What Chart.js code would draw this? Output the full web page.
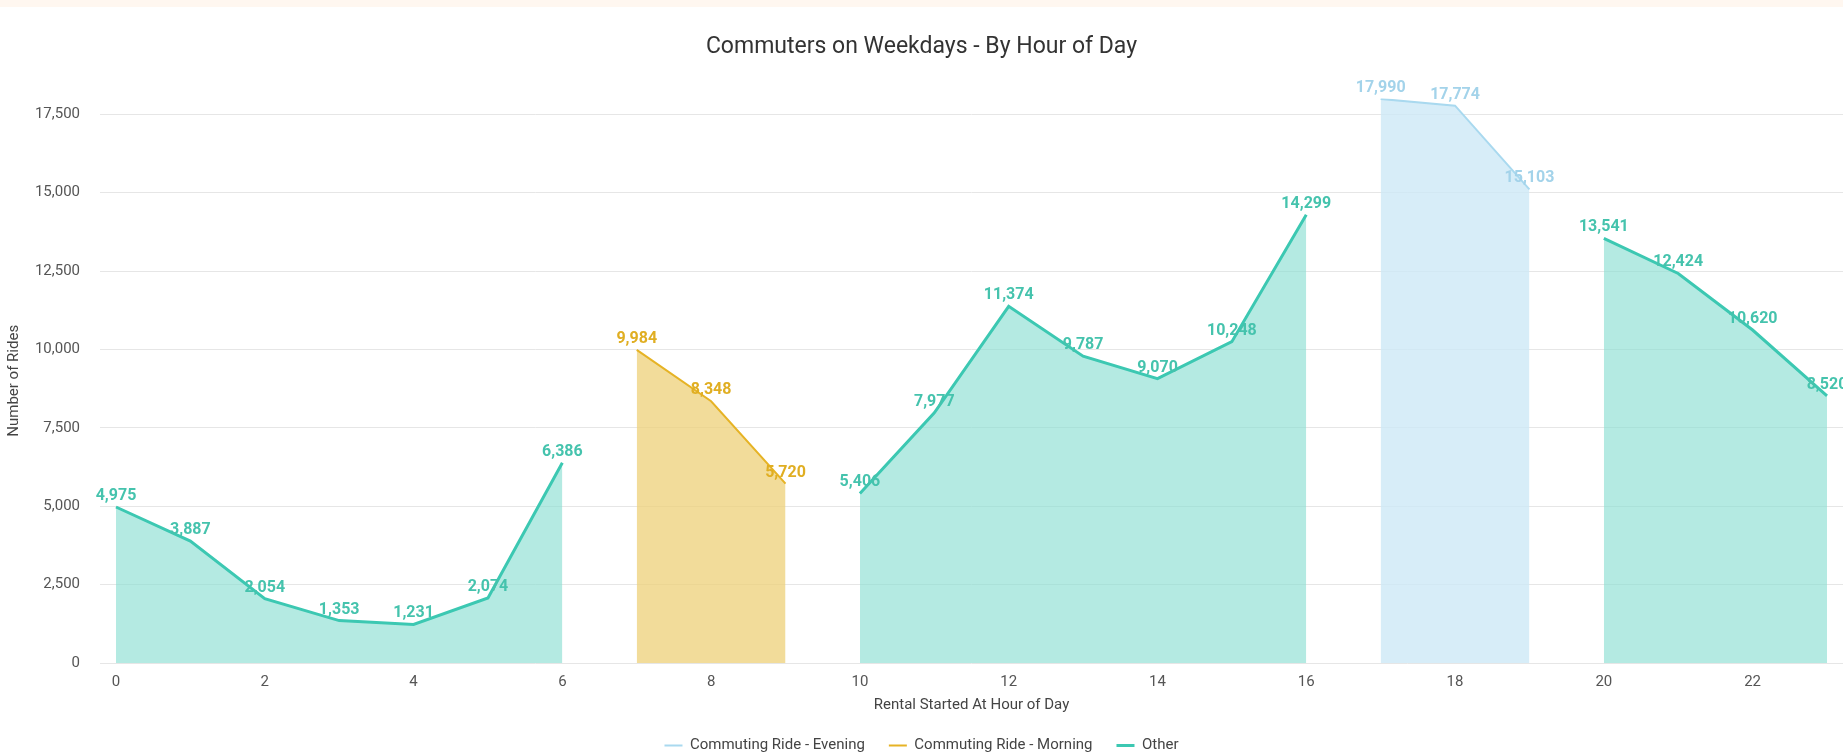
<!DOCTYPE html>
<html>
<head>
<meta charset="utf-8">
<script src="https://cdn.jsdelivr.net/npm/chart.js@4/dist/chart.umd.min.js"></script>
<style>
  html, body { margin: 0; padding: 0; background: #fff; }
  #strip { position: absolute; left: 0; top: 0; width: 1843px; height: 7px; background: #fff7f0; }
  #wrap { position: absolute; left: 0; top: 0; width: 1843px; height: 753px; }
</style>
</head>
<body>
<div id="strip"></div>
<div id="wrap"><canvas id="commuteChart"></canvas></div>
<script>
'use strict';

// hours of the day (x values)
const hours = [0, 1, 2, 3, 4, 5, 6, 7, 8, 9, 10, 11, 12, 13, 14, 15, 16, 17, 18, 19, 20, 21, 22, 23];

// rides per hour, null where the series has no value
const eveningRides = [null, null, null, null, null, null, null, null, null, null, null, null,
    null, null, null, null, null, 17990, 17774, 15103, null, null, null, null];
const morningRides = [null, null, null, null, null, null, null, 9984, 8348, 5720, null, null,
    null, null, null, null, null, null, null, null, null, null, null, null];
const otherRides = [4975, 3887, 2054, 1353, 1231, 2074, 6386, null, null, null, 5406, 7977,
    11374, 9787, 9070, 10248, 14299, null, null, null, 13541, 12424, 10620, 8520];

const xTicks = [0, 2, 4, 6, 8, 10, 12, 14, 16, 18, 20, 22];
const yTicks = [0, 2500, 5000, 7500, 10000, 12500, 15000, 17500];

const colors = {
    evening: '#a9d9ef',
    eveningFill: 'rgba(205, 232, 246, 0.8)',
    eveningLabel: '#a3d3ea',
    morning: '#e6b325',
    morningFill: 'rgba(238, 208, 120, 0.75)',
    morningLabel: '#e0ae22',
    other: '#3cc8b2',
    otherFill: 'rgba(140, 222, 210, 0.65)',
    otherLabel: '#45c3ad'
};

// draws the value above every point, in the series colour
const pointLabels = {
    id: 'pointLabels',
    afterDatasetsDraw(chart) {
        const ctx = chart.ctx;
        ctx.save();
        ctx.font = 'bold 16px Roboto';
        ctx.textAlign = 'center';
        ctx.textBaseline = 'middle';
        chart.data.datasets.forEach((ds, i) => {
            const meta = chart.getDatasetMeta(i);
            meta.data.forEach((pt, j) => {
                const v = ds.data[j];
                if (v === null || v === undefined) return;
                ctx.fillStyle = ds.labelColor;
                ctx.fillText(v.toLocaleString('en-US'), pt.x, pt.y - 11);
            });
        });
        ctx.restore();
    }
};

new Chart(document.getElementById('commuteChart'), {
    type: 'line',
    data: {
        labels: hours,
        datasets: [
            {
                label: 'Commuting Ride - Evening',
                data: eveningRides,
                borderColor: colors.evening,
                backgroundColor: colors.eveningFill,
                labelColor: colors.eveningLabel,
                borderWidth: 2,
                fill: 'origin',
                pointRadius: 0,
                tension: 0
            },
            {
                label: 'Commuting Ride - Morning',
                data: morningRides,
                borderColor: colors.morning,
                backgroundColor: colors.morningFill,
                labelColor: colors.morningLabel,
                borderWidth: 2,
                fill: 'origin',
                pointRadius: 0,
                tension: 0
            },
            {
                label: 'Other',
                data: otherRides,
                borderColor: colors.other,
                backgroundColor: colors.otherFill,
                labelColor: colors.otherLabel,
                borderWidth: 3,
                fill: 'origin',
                pointRadius: 0,
                tension: 0
            }
        ]
    },
    plugins: [pointLabels],
    options: {
        responsive: true,
        maintainAspectRatio: false,
        animation: false,
        spanGaps: false,
        layout: { padding: { top: 0, right: 0, bottom: -10, left: 0 } },
        scales: {
            x: {
                type: 'linear',
                min: -0.215,
                max: 23.215,
                afterBuildTicks: axis => { axis.ticks = xTicks.map(v => ({ value: v })); },
                grid: { display: false, drawTicks: false },
                border: { display: false },
                ticks: {
                    color: '#555',
                    font: { family: 'Roboto', size: 15 },
                    padding: 10,
                    maxRotation: 0
                },
                title: {
                    display: true,
                    text: 'Rental Started At Hour of Day',
                    color: '#444',
                    font: { family: 'Roboto', size: 15 },
                    padding: { top: -5, bottom: 0 }
                }
            },
            y: {
                min: 0,
                max: 18000,
                afterBuildTicks: axis => { axis.ticks = yTicks.map(v => ({ value: v })); },
                afterFit: axis => { axis.width = 100; },
                grid: {
                    color: '#e6e6e6',
                    drawTicks: false,
                    lineWidth: 1
                },
                border: { display: false },
                ticks: {
                    color: '#555',
                    font: { family: 'Roboto', size: 15 },
                    padding: 20,
                    callback: v => v.toLocaleString('en-US')
                },
                title: {
                    display: true,
                    text: 'Number of Rides',
                    color: '#444',
                    font: { family: 'Roboto', size: 15 },
                    padding: { top: 5, bottom: 0 }
                }
            }
        },
        plugins: {
            title: {
                display: true,
                text: 'Commuters on Weekdays - By Hour of Day',
                color: '#333',
                font: { family: 'Roboto', size: 23, weight: 'normal' },
                padding: { top: 33, bottom: 38 }
            },
            legend: {
                position: 'bottom',
                labels: {
                    usePointStyle: true,
                    pointStyle: 'line',
                    pointStyleWidth: 18,
                    color: '#444',
                    font: { family: 'Roboto', size: 15 },
                    padding: 24
                }
            },
            tooltip: { enabled: false }
        }
    }
});
</script>
</body>
</html>
